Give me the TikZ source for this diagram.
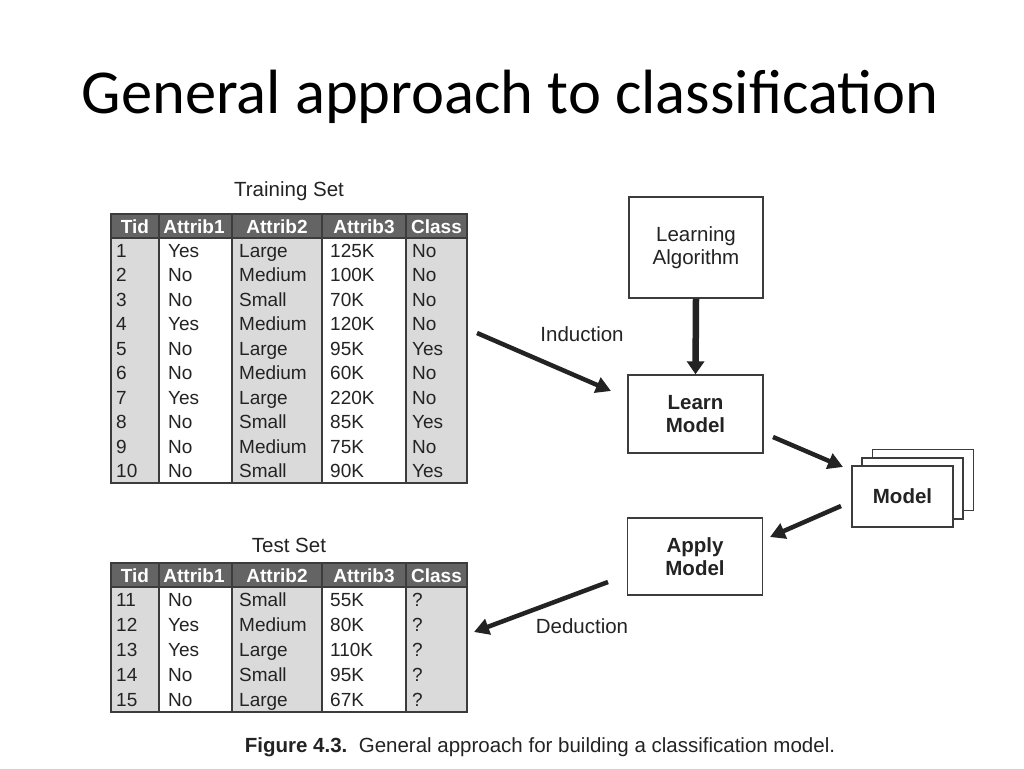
\documentclass[tikz,border=0pt]{standalone}
\usepackage{fontspec}
\setmainfont{Liberation Sans}
\newfontfamily\titlefont{Carlito}
\usetikzlibrary{arrows.meta}
\definecolor{hdr}{RGB}{100,100,100}
\definecolor{cellgray}{RGB}{218,218,218}
\definecolor{ink}{RGB}{35,35,35}
\definecolor{frame}{RGB}{60,60,60}

\newcommand{\mktable}[6]{% name, top, header bottom, bottom, row height, data
  \fill[cellgray] (111,#3) rectangle (159,#4);
  \fill[cellgray] (232,#3) rectangle (322,#4);
  \fill[cellgray] (406,#3) rectangle (467,#4);
  \fill[hdr] (111,#2) rectangle (467,#3);
  \foreach \cx in {159,232,322,406} \draw[gridline] (\cx,#2) -- (\cx,#4);
  \draw[gridline] (111,#3) -- (467,#3);
  \draw[frameline] (111,#2) rectangle (467,#4);
  \pgfmathsetmacro{\hb}{#2+19}
  \node[hcell] (#1-h1) at (135,\hb) {Tid};
  \node[hcell] (#1-h2) at (194,\hb) {Attrib1};
  \node[hcell] (#1-h3) at (277,\hb) {Attrib2};
  \node[hcell] (#1-h4) at (364,\hb) {Attrib3};
  \node[hcell] (#1-h5) at (436.5,\hb) {Class};
  \foreach \ta/\tb/\tc/\td/\te [count=\i] in {#6} {
    \pgfmathsetmacro{\yb}{#3+#5*(\i-0.5)+7}
    \node[cell] (#1-\i-1) at (116,\yb) {\ta};
    \node[cell] (#1-\i-2) at (168,\yb) {\tb};
    \node[cell] (#1-\i-3) at (239,\yb) {\tc};
    \node[cell] (#1-\i-4) at (330,\yb) {\td};
    \node[cell] (#1-\i-5) at (412,\yb) {\te};
  }
}

\begin{document}
\begin{tikzpicture}[x=1pt,y=-1pt,
  cell/.style={anchor=base west, inner sep=0pt, font=\fontsize{19}{19}\selectfont, text=ink},
  hcell/.style={anchor=base, inner sep=0pt, font=\fontsize{19}{19}\selectfont\bfseries, text=white},
  gridline/.style={draw=frame, line width=1.3pt},
  frameline/.style={draw=frame, line width=1.8pt},
  box/.style={draw=frame, line width=1.4pt, fill=white, inner sep=0pt, align=center,
    font=\fontsize{20.5}{23.5}\selectfont, text=ink},
  bbox/.style={box, font=\fontsize{20.5}{23.5}\selectfont\bfseries},
  flow/.style={draw=ink, line width=4.5pt, -{Triangle[length=15pt,width=16pt]}},
  bigflow/.style={draw=ink, line width=6.5pt, -{Triangle[length=13pt,width=17pt]}},
  lbl/.style={inner sep=0pt, font=\fontsize{20.5}{20.5}\selectfont, text=ink}]
\useasboundingbox (0,0) rectangle (1024,768);
\fill[white] (0,0) rectangle (1024,768);

% title
\node[anchor=base, inner sep=0pt, font=\titlefont\fontsize{62.5}{62.5}\selectfont] (title) at (510,113) {General approach to classification};

% tables
\node[lbl] (trainlbl) at (289,191) {Training Set};
\mktable{tr}{214}{238}{483}{24.5}{1/Yes/Large/125K/No, 2/No/Medium/100K/No, 3/No/Small/70K/No, 4/Yes/Medium/120K/No, 5/No/Large/95K/Yes, 6/No/Medium/60K/No, 7/Yes/Large/220K/No, 8/No/Small/85K/Yes, 9/No/Medium/75K/No, 10/No/Small/90K/Yes}

\node[lbl] (testlbl) at (289,545) {Test Set};
\mktable{te}{563}{587}{712}{25}{11/No/Small/55K/?, 12/Yes/Medium/80K/?, 13/Yes/Large/110K/?, 14/No/Small/95K/?, 15/No/Large/67K/?}

% boxes
\node[box, minimum width=134pt, minimum height=101pt] (alg) at (696,247.5) {Learning\\Algorithm};
\node[bbox, minimum width=135pt, minimum height=78pt] (learn) at (695.5,414) {Learn\\Model};
\node[bbox, minimum width=135pt, minimum height=77pt] (apply) at (695,556.5) {Apply\\Model};

\node[box, minimum width=101pt, minimum height=61pt] (m3) at (923,480) {};
\node[box, minimum width=101pt, minimum height=61pt] (m2) at (912.5,488.5) {};
\node[bbox, minimum width=101pt, minimum height=61pt] (m1) at (902.5,496.5) {Model};

% arrows
\draw[bigflow] (alg.south) -- (learn.north);

\coordinate (ind-s) at (477,333);
\coordinate (ind-e) at (611,391);
\draw[flow] (ind-s) -- (ind-e);
\node[lbl] (indlbl) at (582,334) {Induction};

\coordinate (lm-s) at (773,437);
\coordinate (lm-e) at (843,467);
\draw[flow] (lm-s) -- (lm-e);

\coordinate (mo-s) at (841,506);
\coordinate (mo-e) at (770,537);
\draw[flow] (mo-s) -- (mo-e);

\coordinate (ded-s) at (608,582);
\coordinate (ded-e) at (474,632);
\draw[flow] (ded-s) -- (ded-e);
\node[lbl] (dedlbl) at (582,626) {Deduction};

% caption
\node[anchor=base, inner sep=0pt, font=\fontsize{20.5}{20.5}\selectfont, text=ink] (caption) at (540,752) {\textbf{Figure 4.3.}\ \ General approach for building a classification model.};
\end{tikzpicture}
\end{document}
